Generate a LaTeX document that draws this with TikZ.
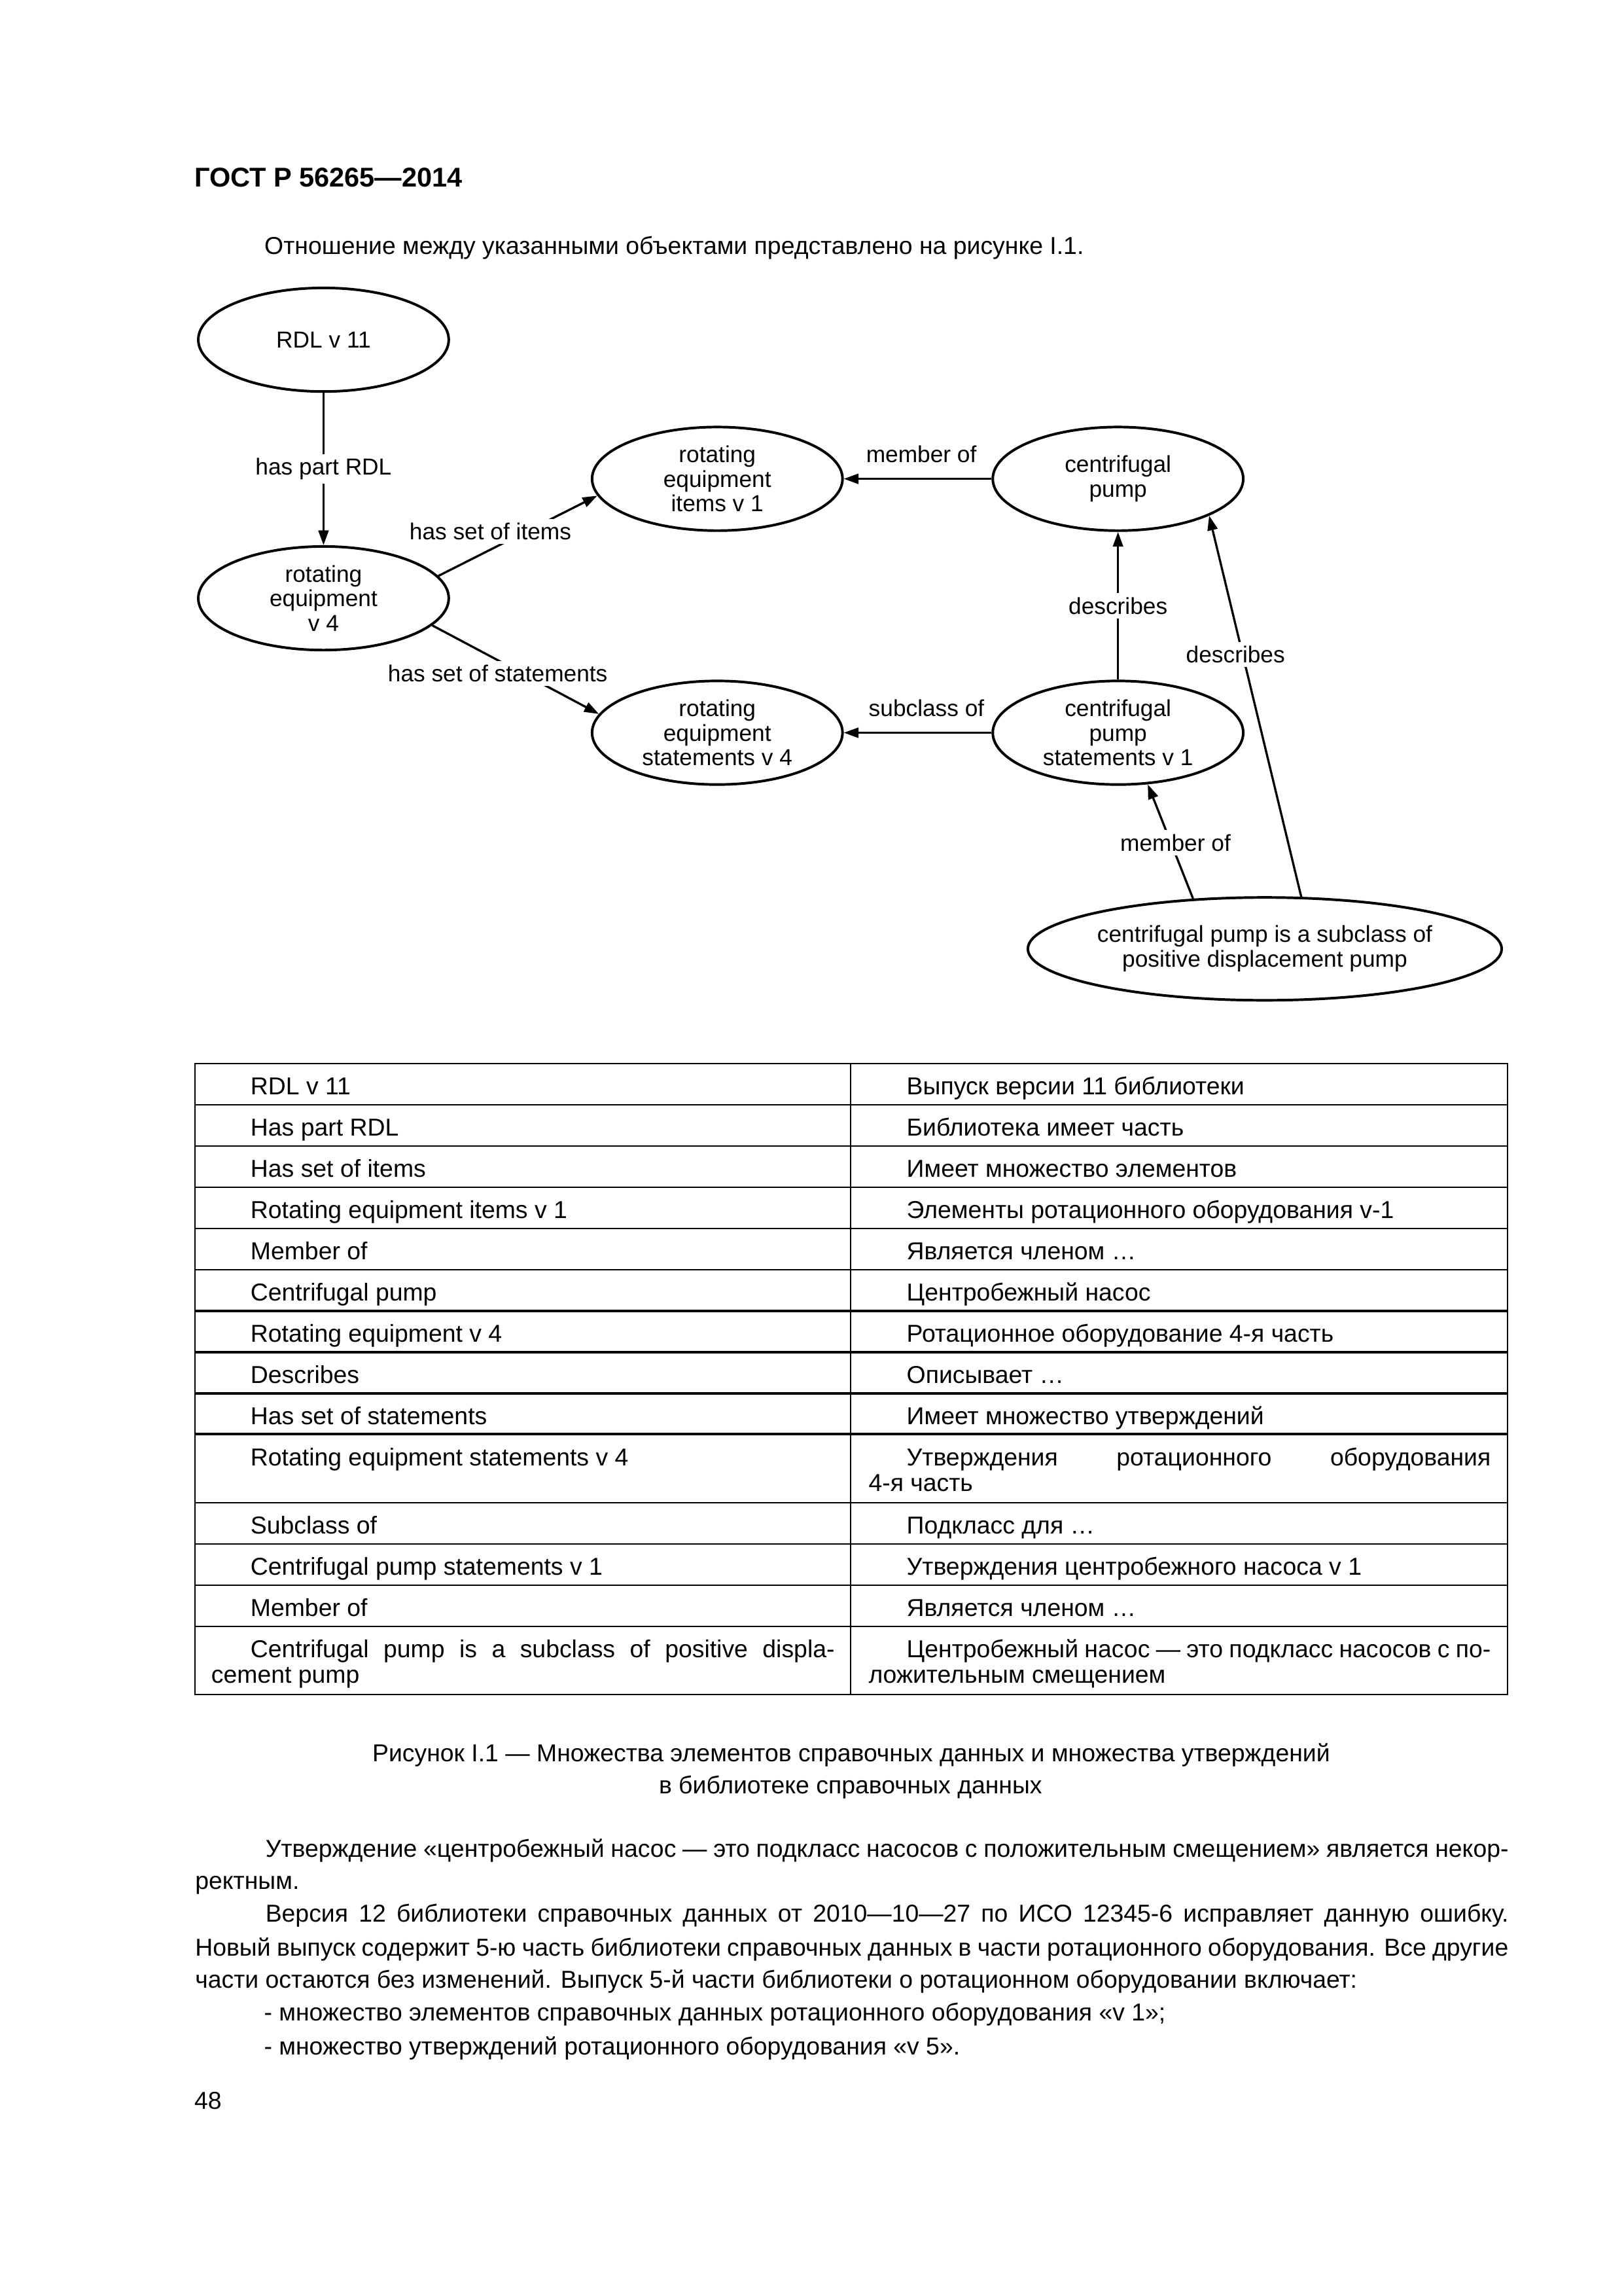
\documentclass[tikz,border=0pt]{standalone}
\usepackage{fontspec}
\setmainfont{Liberation Sans}
\usepackage{tikz}
\usetikzlibrary{arrows.meta,positioning,shapes.geometric}
\tikzset{
  entity/.style={draw,ellipse,line width=0.95pt,inner sep=0pt,align=center,
    minimum width=3.24cm,minimum height=1.34cm,font=\fontsize{8.5}{9.1}\selectfont},
  arrow/.style={-{Triangle[length=1.9mm,width=1.3mm]},line width=0.8pt},
  labelstyle/.style={font=\fontsize{8.5}{10}\selectfont,inner sep=1.5pt,fill=white},
  cell/.style={anchor=base west,inner sep=0pt,font=\fontsize{9}{10}\selectfont},
  body/.style={anchor=base west,inner sep=0pt,font=\fontsize{9}{11}\selectfont},
  rule/.style={line width=0.5pt},
  heavyrule/.style={line width=0.85pt}
}
\begin{document}
\begin{tikzpicture}[x=0.018936cm,y=-0.018941cm,node distance=1.91cm]
  \useasboundingbox (0,0) rectangle (1109,1568);
  % page head
  \node[body,font=\fontsize{10}{12}\selectfont\bfseries] (hdr) at (132.4,127.4) {ГОСТ Р 56265—2014};
  \node[body] (intro) at (180.3,173.5) {Отношение между указанными объектами представлено на рисунке I.1.};
  % diagram
  \node[entity] (rdl) at (221,232) {RDL v 11};
  \node[entity,below=1.97cm of rdl] (rot4) {rotating\\equipment\\v 4};
  \node[entity] (items) at (490,327) {rotating\\equipment\\items v 1};
  \node[entity,right=of items] (pump) {centrifugal\\pump};
  \node[entity,below=of items] (stmts) {rotating\\equipment\\statements v 4};
  \node[entity,below=of pump] (pumpst) {centrifugal\\pump\\statements v 1};
  \node[entity,minimum width=6.1cm,minimum height=1.33cm] (subcl) at (864,648) {centrifugal pump is a subclass of\\positive displacement pump};
  \draw[arrow] (rdl) -- node[labelstyle] (lpart) {has part RDL} (rot4);
  \draw[arrow] (rot4.11) -- (items.188);
  \node[labelstyle] (lset) at (335,363) {has set of items};
  \draw[arrow] (rot4.346) -- (stmts.171);
  \node[labelstyle] (lstm) at (340,460) {has set of statements};
  \draw[arrow] (pump) -- node[labelstyle,above=4pt,pos=0.475] (lmem) {member of} (items);
  \draw[arrow] (pumpst) -- node[labelstyle,above=4pt,pos=0.44] (lsub) {subclass of} (stmts);
  \draw[arrow] (pumpst) -- node[labelstyle] (ldesc) {describes} (pump);
  \draw[arrow] (subcl.145) -- (pumpst.300);
  \node[labelstyle] (lmem2) at (803,575.5) {member of};
  \draw[arrow] (subcl.55) -- (pump.338);
  \node[labelstyle] (ldesc2) at (844,447) {describes};
  % table of terms
  \draw[rule] (133,726.3) rectangle (1030,1157.3);
  \draw[rule] (581,726.3) -- (581,1157.3);
  \foreach \yy in {754.4,782.6,810.8,839,867,1026.3,1054.4,1082.6,1110.8}
    \draw[rule] (133,\yy) -- (1030,\yy);
  \foreach \yy in {895.3,923.4,951.6,979.3}
    \draw[heavyrule] (133,\yy) -- (1030,\yy);
  \foreach \yy/\en/\ru [count=\i] in {
    747.6/RDL v 11/Выпуск версии 11 библиотеки,
    775.7/Has part RDL/Библиотека имеет часть,
    803.9/Has set of items/Имеет множество элементов,
    832.1/Rotating equipment items v 1/Элементы ротационного оборудования v-1,
    860.3/Member of/Является членом …,
    888.3/Centrifugal pump/Центробежный насос,
    916.6/Rotating equipment v 4/Ротационное оборудование 4-я часть,
    944.7/Describes/Описывает …,
    972.9/Has set of statements/Имеет множество утверждений,
    1047.6/Subclass of/Подкласс для …,
    1075.7/Centrifugal pump statements v 1/Утверждения центробежного насоса v 1,
    1103.9/Member of/Является членом …}{
    \node[cell] (en\i) at (170.8,\yy) {\en};
    \node[cell] (ru\i) at (619,\yy) {\ru};
  }
  \node[cell] (enst) at (170.8,1001) {Rotating equipment statements v 4};
  \node[cell] (rust) at (619,1001) {\makebox[7.556cm][s]{Утверждения ротационного оборудования}};
  \node[cell] (rust2) at (593,1018.5) {4-я часть};
  \node[cell] (enpd) at (170.8,1132.1) {\makebox[7.556cm][s]{Centrifugal pump is a subclass of positive displa-}};
  \node[cell] (enpd2) at (144,1149.6) {cement pump};
  \node[cell] (rupd) at (619,1132.1) {\makebox[7.556cm][s]{Центробежный насос — это подкласс насосов с по-}};
  \node[cell] (rupd2) at (593,1149.6) {ложительным смещением};
  % caption and text
  \node[body,anchor=base] (cap1) at (581.5,1203) {Рисунок I.1 — Множества элементов справочных данных и множества утверждений};
  \node[body,anchor=base] (cap2) at (581,1225) {в библиотеке справочных данных};
  \node[body] (p1a) at (181,1268.4) {\makebox[16.08cm][s]{Утверждение «центробежный насос — это подкласс насосов с положительным смещением» является некор-}};
  \node[body] (p1b) at (133,1290.4) {ректным.};
  \node[body] (p2a) at (181,1312.7) {\makebox[16.08cm][s]{Версия 12 библиотеки справочных данных от 2010—10—27 по ИСО 12345-6 исправляет данную ошибку.}};
  \node[body] (p2b) at (133,1336) {\makebox[16.986cm][s]{Новый выпуск содержит 5-ю часть библиотеки справочных данных в части ротационного оборудования. Все другие}};
  \node[body] (p2c) at (133,1357.9) {части остаются без изменений. Выпуск 5-й части библиотеки о ротационном оборудовании включает:};
  \node[body] (li1) at (180,1380.2) {- множество элементов справочных данных ротационного оборудования «v 1»;};
  \node[body] (li2) at (180,1403.2) {- множество утверждений ротационного оборудования «v 5».};
  \node[body] (pg) at (132.4,1440.2) {48};
\end{tikzpicture}
\end{document}
